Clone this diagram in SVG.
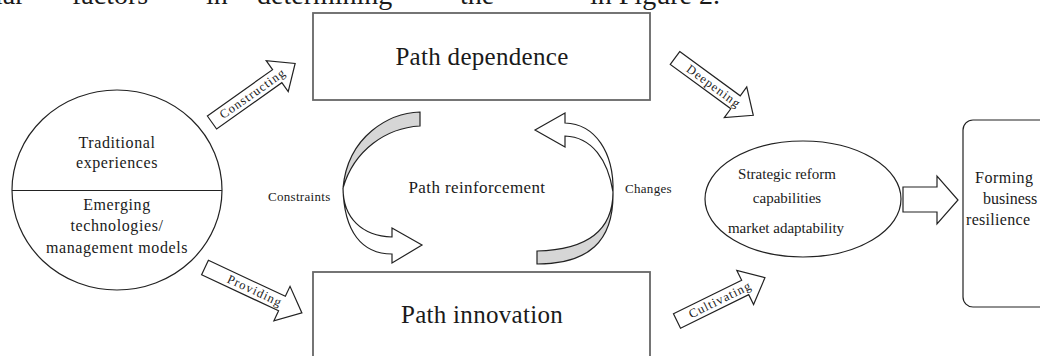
<svg xmlns="http://www.w3.org/2000/svg" width="1040" height="356" viewBox="0 0 1040 356">
<style>
text{font-family:"Liberation Serif","Times New Roman",serif;fill:#1a1a1a}
.box{fill:#fff;stroke:#666;stroke-width:1.8}
.shape{fill:#fff;stroke:#222;stroke-width:1.2}
.barrow{fill:#fff;stroke:#222;stroke-width:1.2;stroke-linejoin:miter}
.gray{fill:#d6d6d6;stroke:#222;stroke-width:1.2}
.lbl{font-size:12.5px;text-anchor:middle;letter-spacing:1.1px}
.mid{text-anchor:middle}
</style>
<rect width="1040" height="356" fill="#fff"/>
<g id="page-text" font-size="28">
<text x="-5" y="4">lar</text>
<text x="72" y="4">factors</text>
<text x="206" y="4">in</text>
<text x="257" y="4">determining</text>
<text x="460" y="4">the</text>
<text x="590" y="4">in Figure 2.</text>
</g>
<g id="connectors">
<g transform="translate(212,122.5) rotate(-35.4)">
<polygon class="barrow" points="0,-8 80,-8 80,-19 102,0 80,19 80,8 0,8"/>
<text class="lbl" x="50" y="4">Constructing</text>
</g>
<g transform="translate(205,267.5) rotate(25.1)">
<polygon class="barrow" points="0,-8 85,-8 85,-19 107,0 85,19 85,8 0,8"/>
<text class="lbl" x="55" y="4">Providing</text>
</g>
<g transform="translate(675,58) rotate(36.2)">
<polygon class="barrow" points="0,-8 75,-8 75,-19 97,0 75,19 75,8 0,8"/>
<text class="lbl" x="48" y="4">Deepening</text>
</g>
<g transform="translate(677,321) rotate(-26.2)">
<polygon class="barrow" points="0,-8 76,-8 76,-19 98,0 76,19 76,8 0,8"/>
<text class="lbl" x="48" y="4">Cultivating</text>
</g>
<polygon class="barrow" points="903,187 937,187 937,176 958,200 937,224 937,212 903,212"/>
<g id="loop-left">
<path class="gray" d="M420,112 C390,113 348,135 343,188 C354,150 386,128 420,126 Z"/>
<path class="shape" d="M343,188 C343,218 362,236 392,237 L392,228 L422,245 L392,263 L392,254 C362,254 344,232 343,188 Z"/>
</g>
<g id="loop-right">
<path class="shape" d="M535,130 L565,113 L565,123 C595,124 614,152 613,192 C608,160 592,137 565,136 L565,147 Z"/>
<path class="gray" d="M613,192 C613,235 580,250 537,251 L537,264 C588,264 614,242 613,192 Z"/>
</g>
<text x="268" y="201" font-size="13" letter-spacing="0.3">Constraints</text>
<text x="625" y="193" font-size="13" letter-spacing="0.3">Changes</text>
<text class="mid" x="477" y="193" font-size="17" letter-spacing="0.4">Path reinforcement</text>
</g>
<g id="node-sources">
<ellipse class="shape" cx="117" cy="190" rx="105" ry="100"/>
<line x1="12" y1="190.5" x2="222" y2="190.5" stroke="#222" stroke-width="1.2"/>
<g class="mid" font-size="16" letter-spacing="0.6">
<text x="117" y="148">Traditional</text>
<text x="117" y="168">experiences</text>
<text x="117" y="210">Emerging</text>
<text x="117" y="231">technologies/</text>
<text x="117" y="253">management models</text>
</g>
</g>
<g id="node-dependence">
<rect class="box" x="313" y="13" width="337" height="87"/>
<text class="mid" x="482" y="65" font-size="25" letter-spacing="0.3">Path dependence</text>
</g>
<g id="node-innovation">
<rect class="box" x="313" y="272" width="337" height="100"/>
<text class="mid" x="482" y="323" font-size="25" letter-spacing="0.3">Path innovation</text>
</g>
<g id="node-capabilities">
<ellipse class="shape" cx="803" cy="199" rx="98" ry="58"/>
<g class="mid" font-size="15">
<text x="787" y="179">Strategic reform</text>
<text x="787" y="203">capabilities</text>
<text x="786" y="233">market adaptability</text>
</g>
</g>
<g id="node-resilience">
<rect class="shape" x="963" y="120" width="110" height="187" rx="10"/>
<g font-size="16">
<text x="975" y="183" letter-spacing="0.5">Forming</text>
<text x="983" y="204">business</text>
<text x="966" y="225" letter-spacing="0.3">resilience</text>
</g>
</g>
</svg>
